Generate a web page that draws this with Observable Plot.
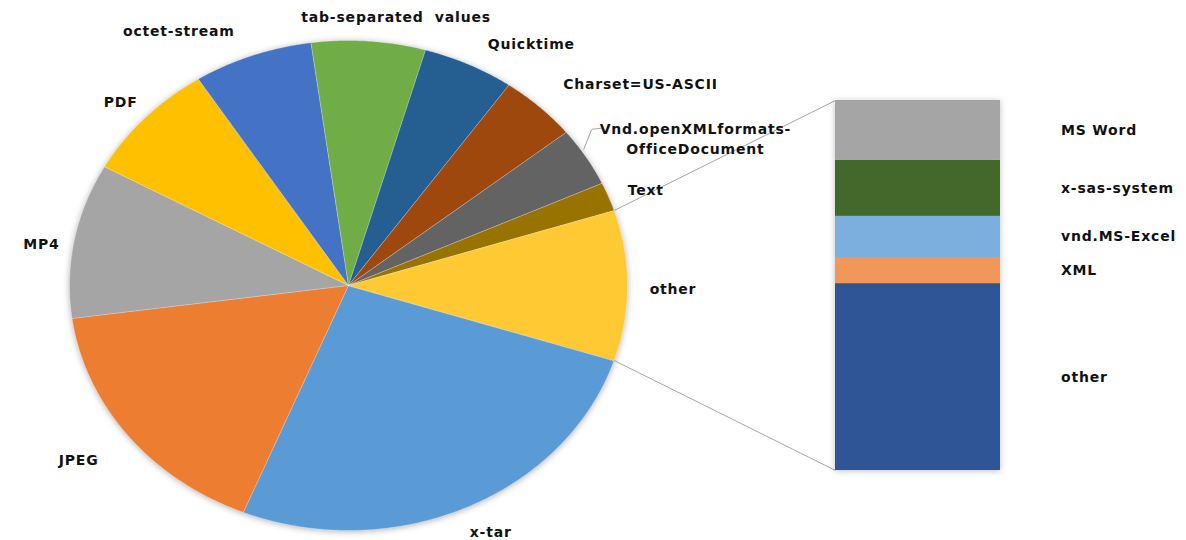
<!DOCTYPE html>
<html>
<head>
<meta charset="utf-8">
<script src="https://cdn.jsdelivr.net/npm/d3@7"></script>
<script src="https://cdn.jsdelivr.net/npm/@observablehq/plot@0.6"></script>
<style>
html, body { margin: 0; padding: 0; background: #fff; }
#chart { position: relative; width: 1186px; height: 540px; overflow: hidden; }
#chart svg { position: absolute; left: 0; top: 0; }
#chart text { letter-spacing: 0.8px; }
</style>
</head>
<body>
<div id="chart"></div>
<script>
// ---- data ----
const pieNames = ["x-tar", "JPEG", "MP4", "PDF", "octet-stream", "tab-separated  values",
  "Quicktime", "Charset=US-ASCII", "Vnd.openXMLformats-\nOfficeDocument", "Text"];
const pieValues = [26.2, 16.7, 10.2, 7.9, 6.9, 6.6, 5.3, 4.5, 3.9, 1.9];
const pieColors = ["#5B9BD5", "#ED7D31", "#A5A5A5", "#FFC000", "#4472C4", "#70AD47",
  "#255E91", "#9E480E", "#636363", "#997300"];
const otherName = "other";
const otherColor = "#FFC933";

const barNames = ["other", "XML", "vnd.MS-Excel", "x-sas-system", "MS Word"];
const barValues = [5.0, 0.7, 1.1, 1.5, 1.6];
const barColors = ["#2F5597", "#F1975A", "#7CAFDD", "#43682B", "#A5A5A5"];

// ---- layout (pixels) ----
const L = {
  W: 1186, H: 540,
  cx: 348, cy: 285, rx: 279, ry: 245,
  barX0: 835, barX1: 1000, barTop: 100, barBottom: 470,
  labelR: 1.12,
  barLabelDx: 143,
  // per-label nudges [dx, dy] in pixels, in pie order (+ other)
  nudges: [[10, -4], [-23, 5], [0, 8], [0, 3], [-62, 2], [25, 4], [48, 5], [78, -3], [81, -4], [6, 2], [12, 2]],
  leaderIndex: 8,
  leader: [[0, 0], [8, -20], [17, -21]]
};

const ux = px => (px - L.cx) / L.rx;
const uy = py => (L.cy - py) / L.ry;

// ---- pie geometry ----
const pieData = pieNames.map((n, i) => ({name: n, value: pieValues[i], color: pieColors[i]}))
  .concat([{name: otherName, value: d3.sum(barValues), color: otherColor}]);
const total = d3.sum(pieData, d => d.value);
const fOther = pieData[pieData.length - 1].value / total;
const a0 = Math.PI / 2 + Math.PI * fOther;
const arcs = d3.pie().sort(null).value(d => d.value).startAngle(a0).endAngle(a0 + 2 * Math.PI)(pieData);

const slicePts = [];
arcs.forEach((a, i) => {
  const n = Math.max(2, Math.ceil((a.endAngle - a.startAngle) / (Math.PI / 360)));
  const key = "s" + i;
  slicePts.push({key, color: a.data.color, x: 0, y: 0});
  for (let k = 0; k <= n; k++) {
    const t = a.startAngle + (a.endAngle - a.startAngle) * k / n;
    slicePts.push({key, color: a.data.color, x: Math.sin(t), y: Math.cos(t)});
  }
});

const labels = arcs.map((a, i) => {
  const m = (a.startAngle + a.endAngle) / 2;
  const [dx, dy] = L.nudges[i];
  return {
    text: a.data.name,
    x: L.labelR * Math.sin(m) + dx / L.rx,
    y: L.labelR * Math.cos(m) - dy / L.ry
  };
});

// leader line for the two-line label
const la = arcs[L.leaderIndex];
const lm = (la.startAngle + la.endAngle) / 2 - 0.03;
const lx0 = 1.01 * Math.sin(lm), ly0 = 1.01 * Math.cos(lm);
const leaderPts = L.leader.map(([dx, dy]) => ({x: lx0 + dx / L.rx, y: ly0 - dy / L.ry}));

// connectors from the "other" slice to the bar
const oa = arcs[arcs.length - 1];
const connectors = [
  {x1: Math.sin(oa.startAngle), y1: Math.cos(oa.startAngle), x2: ux(L.barX0), y2: uy(L.barTop)},
  {x1: Math.sin(oa.endAngle), y1: Math.cos(oa.endAngle), x2: ux(L.barX0), y2: uy(L.barBottom)}
];

const textStyle = {fontFamily: "DejaVu Sans", fontWeight: "bold", fontSize: 14, fill: "#111"};

const piePlot = Plot.plot({
  width: L.W, height: L.H,
  margin: 0,
  x: {domain: [-1, 1], range: [L.cx - L.rx, L.cx + L.rx], axis: null},
  y: {domain: [-1, 1], range: [L.cy + L.ry, L.cy - L.ry], axis: null},
  color: {type: "identity"},
  style: {background: "transparent", fontFamily: "DejaVu Sans"},
  marks: [
    Plot.line(slicePts, {x: "x", y: "y", z: "key", fill: "color", stroke: "#ffffff", strokeWidth: 0.6, strokeOpacity: 0.5, curve: "linear-closed"}),
    Plot.link(connectors, {x1: "x1", y1: "y1", x2: "x2", y2: "y2", stroke: "#A6A6A6", strokeWidth: 1}),
    Plot.line(leaderPts, {x: "x", y: "y", stroke: "#A6A6A6", strokeWidth: 1}),
    Plot.text(labels, {x: "x", y: "y", text: "text", textAnchor: "middle", lineHeight: 1.45, ...textStyle})
  ]
});

// ---- bar ----
const barData = barNames.map((n, i) => ({name: n, value: barValues[i], color: barColors[i]}));
const barPlot = Plot.plot({
  width: L.W, height: L.H,
  marginLeft: L.barX0, marginRight: L.W - L.barX1,
  marginTop: L.barTop, marginBottom: L.H - L.barBottom,
  x: {domain: ["bar"], padding: 0, axis: null},
  y: {domain: [0, d3.sum(barValues)], axis: null},
  color: {type: "identity"},
  style: {background: "transparent", fontFamily: "DejaVu Sans"},
  marks: [
    Plot.barY(barData, {x: () => "bar", y: "value", fill: "color"}),
    Plot.text(barData, Plot.stackY({x: () => "bar", y: "value", text: "name", dx: L.barLabelDx, textAnchor: "start", ...textStyle}))
  ]
});

const chart = document.getElementById("chart");
chart.appendChild(piePlot);
chart.appendChild(barPlot);

// soft shadows like the original
const pieG = piePlot.querySelector("g[aria-label='line']");
if (pieG) pieG.style.filter = "drop-shadow(0px 1px 3px rgba(0,0,0,0.3))";
const barG = barPlot.querySelector("g[aria-label='bar']");
if (barG) barG.style.filter = "drop-shadow(0px 1px 3px rgba(0,0,0,0.25))";
</script>
</body>
</html>
